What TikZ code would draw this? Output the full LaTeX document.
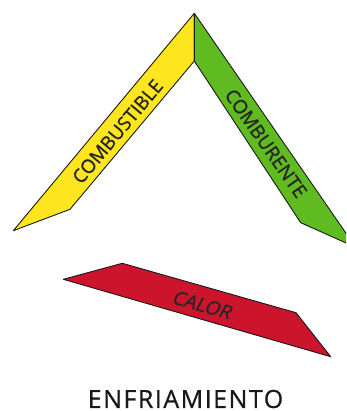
\documentclass[tikz,border=0pt]{standalone}
\usepackage{fontspec}
\setmainfont{Open Sans}
\usepackage{tikz}
\usetikzlibrary{positioning}
\usepackage{xcolor}

\definecolor{fuelyellow}{RGB}{253,230,30}
\definecolor{oxgreen}{RGB}{96,187,33}
\definecolor{heatred}{RGB}{204,21,45}

\begin{document}
\begin{tikzpicture}[x=1pt, y=-1pt,
    band/.style={draw=black!90, line width=0.9pt, line join=round},
    bandlabel/.style={font=\fontsize{19}{22}\selectfont\addfontfeatures{FakeBold=0.9}, text=black!85, inner sep=0pt}]
    \useasboundingbox (0, 0) rectangle (346, 411);
    \clip (0, 0) rectangle (346, 411);

    % the three sides of the triangle
    \draw[band, fill=fuelyellow] (194.3, 13.3) -- (194.3, 61) -- (70, 209.3) -- (13.3, 230.7) -- cycle;
    \draw[band, fill=oxgreen] (194.3, 13.3) -- (194.3, 61) -- (300.7, 222.7) -- (355.7, 247.3) -- cycle;
    \draw[band, fill=heatred] (63.3, 279.3) -- (122.3, 263.3) -- (296, 312.7) -- (330.7, 356.7) -- cycle;

    \node[bandlabel, rotate=50] (fuel) at (117.5, 131.5) {COMBUSTIBLE};
    \node[bandlabel, rotate=-55] (oxidant) at (266, 143.3) {COMBURENTE};
    \node[bandlabel, rotate=-16, xslant=0.22] (heat) at (203, 305) {CALOR};

    \node[font=\fontsize{25}{30}\selectfont\addfontfeatures{LetterSpace=6,FakeBold=0.6}, text=black!90, inner sep=0pt] (cooling) at (185.5, 399) {ENFRIAMIENTO};
\end{tikzpicture}
\end{document}
